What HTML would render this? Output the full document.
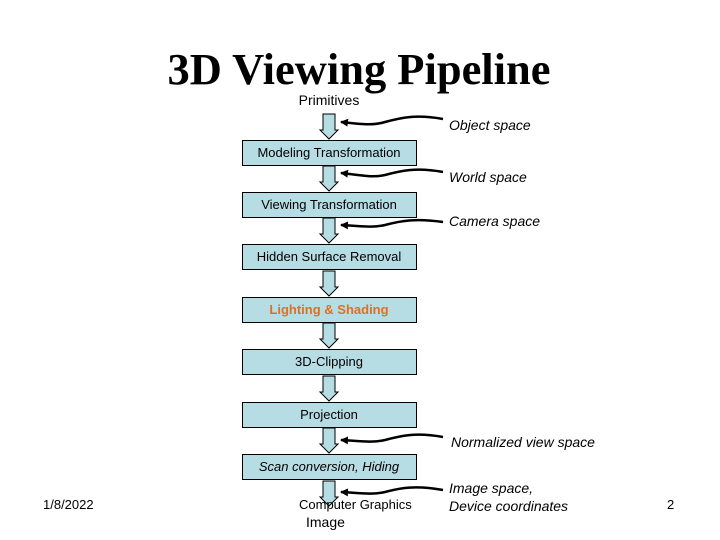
<!DOCTYPE html>
<html><head><meta charset="utf-8"><style>
html,body{margin:0;padding:0;background:#fff;}
svg{display:block;}
text{font-family:"Liberation Sans",Arial,sans-serif;}
</style></head><body>
<svg width="720" height="540" viewBox="0 0 720 540" xmlns="http://www.w3.org/2000/svg">
<defs>
<marker id="ah" markerWidth="8" markerHeight="8" refX="7" refY="4" orient="auto" markerUnits="userSpaceOnUse">
<path d="M0,0 L8,4 L0,8 Z" fill="#000"/>
</marker>
<g id="barrow"><path d="M-6,0 H6 V16 H9 L0,25 L-9,16 H-6 Z" fill="#b7dde4" stroke="#000" stroke-width="1"/></g>
</defs>
<text x="359" y="84" font-family="Liberation Serif,serif" font-weight="bold" font-size="44" text-anchor="middle" style="font-family:'Liberation Serif',serif" textLength="383" lengthAdjust="spacingAndGlyphs">3D Viewing Pipeline</text>
<text x="329" y="105" font-size="14" text-anchor="middle">Primitives</text>

<use href="#barrow" x="329" y="114"/>
<use href="#barrow" x="329" y="166"/>
<use href="#barrow" x="329" y="218"/>
<use href="#barrow" x="329" y="271"/>
<use href="#barrow" x="329" y="323"/>
<use href="#barrow" x="329" y="376"/>
<use href="#barrow" x="329" y="428"/>
<use href="#barrow" x="329" y="481"/>

<g fill="#b7dde4" stroke="#000" stroke-width="1">
<rect x="242.5" y="140.5" width="174" height="25"/>
<rect x="242.5" y="192.5" width="174" height="25"/>
<rect x="242.5" y="244.5" width="174" height="25"/>
<rect x="242.5" y="297.5" width="174" height="25"/>
<rect x="242.5" y="349.5" width="174" height="25"/>
<rect x="242.5" y="402.5" width="174" height="25"/>
<rect x="242.5" y="454.5" width="174" height="25"/>
</g>
<g font-size="13" text-anchor="middle" fill="#000">
<text x="329" y="157">Modeling Transformation</text>
<text x="329" y="209">Viewing Transformation</text>
<text x="329" y="261">Hidden Surface Removal</text>
<text x="329" y="314" fill="#e07020" font-weight="bold">Lighting &amp; Shading</text>
<text x="329" y="366">3D-Clipping</text>
<text x="329" y="419">Projection</text>
<text x="329" y="471" font-style="italic">Scan conversion, Hiding</text>
</g>

<g fill="none" stroke="#000" stroke-width="2.5" marker-end="url(#ah)">
<path d="M443,119 C415,114 400,118 385,122 C372,126 360,124 341,122"/>
<path d="M443,172 C415,167 400,171 385,175 C372,178 360,175 341,173"/>
<path d="M443,222 C415,218 400,221 385,225 C372,228 360,226 341,225"/>
<path d="M443,437 C415,432 400,436 385,440 C372,443 360,441 341,440"/>
<path d="M443,490 C415,485 400,488 385,492 C372,495 360,493 341,492"/>
</g>

<g font-size="14" font-style="italic">
<text x="449" y="130">Object space</text>
<text x="449" y="182">World space</text>
<text x="449" y="226">Camera space</text>
<text x="451" y="447">Normalized view space</text>
<text x="449" y="493">Image space,</text>
<text x="449" y="511">Device coordinates</text>
</g>
<text x="299" y="509" font-size="13">Computer Graphics</text>
<text x="306" y="527" font-size="14">Image</text>
<text x="43" y="509" font-size="13">1/8/2022</text>
<text x="667" y="509" font-size="13">2</text>
</svg>
</body></html>
